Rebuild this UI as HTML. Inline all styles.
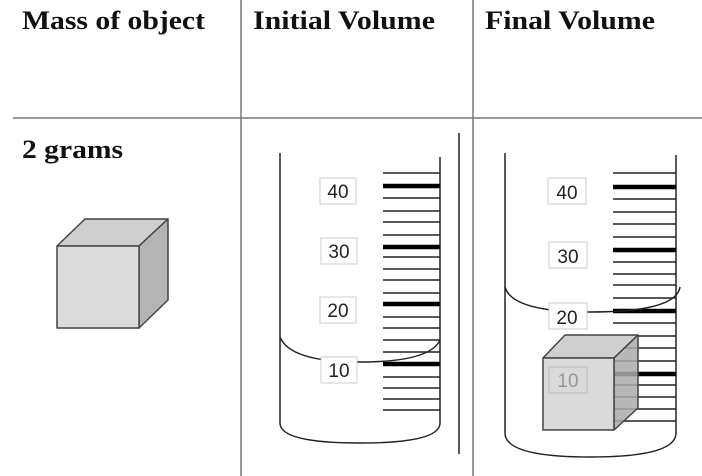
<!DOCTYPE html>
<html><head><style>html,body{margin:0;padding:0;background:#fff}svg{display:block}</style></head><body>
<svg width="702" height="476" viewBox="0 0 702 476" xmlns="http://www.w3.org/2000/svg" font-family="Liberation Serif, serif">
<g stroke="#777" stroke-width="1.5">
<line x1="13" y1="118" x2="702" y2="118"/>
<line x1="241" y1="0" x2="241" y2="476"/>
<line x1="473" y1="0" x2="473" y2="476"/>
</g>
<g font-weight="bold" font-size="26" fill="#111">
<text x="22" y="29" textLength="183" lengthAdjust="spacingAndGlyphs">Mass of object</text>
<text x="253" y="29" textLength="182" lengthAdjust="spacingAndGlyphs">Initial Volume</text>
<text x="485" y="29" textLength="170" lengthAdjust="spacingAndGlyphs">Final Volume</text>
<text x="22" y="158" textLength="101" lengthAdjust="spacingAndGlyphs">2 grams</text>
</g>
<!-- left cube -->
<g stroke="#444" stroke-width="1.5" stroke-linejoin="round">
<polygon points="57,246 85,219 168,219 139,246" fill="#cfcfcf"/>
<polygon points="139,246 168,219 168,300 139,328" fill="#b4b4b4"/>
<rect x="57" y="246" width="82" height="82" fill="#dcdcdc"/>
</g>
<!-- initial cylinder -->
<g stroke="#222" fill="none" stroke-width="1.5">
<line x1="280" y1="153" x2="280" y2="423"/>
<line x1="440" y1="157" x2="440" y2="423"/>
<path d="M280,423 Q280,443 360,443 Q440,443 440,423"/>
<path d="M280,337 Q290,362 360,362 Q430,362 440,340"/>
<line x1="459" y1="133" x2="459" y2="454"/>
<g stroke-width="1.5">
<line x1="383" y1="173" x2="440" y2="173"/><line x1="383" y1="198" x2="440" y2="198"/><line x1="383" y1="211" x2="440" y2="211"/><line x1="383" y1="222" x2="440" y2="222"/><line x1="383" y1="235" x2="440" y2="235"/><line x1="383" y1="257" x2="440" y2="257"/><line x1="383" y1="269" x2="440" y2="269"/><line x1="383" y1="280" x2="440" y2="280"/><line x1="383" y1="293" x2="440" y2="293"/><line x1="383" y1="317" x2="440" y2="317"/><line x1="383" y1="328" x2="440" y2="328"/><line x1="383" y1="340" x2="440" y2="340"/><line x1="383" y1="352" x2="440" y2="352"/><line x1="383" y1="377" x2="440" y2="377"/><line x1="383" y1="388" x2="440" y2="388"/><line x1="383" y1="399" x2="440" y2="399"/><line x1="383" y1="410" x2="440" y2="410"/>
</g>
<g stroke-width="4.5" stroke="#000">
<line x1="383" y1="186" x2="440" y2="186"/><line x1="383" y1="247" x2="440" y2="247"/><line x1="383" y1="304" x2="440" y2="304"/><line x1="383" y1="364" x2="440" y2="364"/>
</g>
</g>
<g font-family="Liberation Sans, sans-serif" font-size="19" fill="#222" text-anchor="middle">
<g stroke="#ccc" fill="#fff"><rect x="320" y="178" width="36" height="26"/><rect x="321" y="238" width="36" height="26"/><rect x="320" y="297" width="36" height="26"/><rect x="321" y="357" width="36" height="26"/></g>
<text x="338" y="198">40</text><text x="339" y="258">30</text><text x="338" y="317">20</text><text x="339" y="377">10</text>
</g>
<!-- final cylinder -->
<g stroke="#222" fill="none" stroke-width="1.5">
<line x1="505" y1="153" x2="505" y2="433"/>
<line x1="676" y1="155" x2="676" y2="433"/>
<path d="M505,433 Q505,457 590,457 Q676,457 676,433"/>
<line x1="613" y1="173" x2="676" y2="173"/><line x1="613" y1="199" x2="676" y2="199"/><line x1="613" y1="212" x2="676" y2="212"/><line x1="613" y1="224" x2="676" y2="224"/><line x1="613" y1="237" x2="676" y2="237"/><line x1="613" y1="262" x2="676" y2="262"/><line x1="613" y1="274" x2="676" y2="274"/><line x1="613" y1="285" x2="676" y2="285"/><line x1="613" y1="298" x2="676" y2="298"/><line x1="613" y1="323" x2="676" y2="323"/><line x1="613" y1="336" x2="676" y2="336"/><line x1="613" y1="348" x2="676" y2="348"/><line x1="613" y1="361" x2="676" y2="361"/><line x1="613" y1="385" x2="676" y2="385"/><line x1="613" y1="397" x2="676" y2="397"/><line x1="613" y1="409" x2="676" y2="409"/><line x1="613" y1="421" x2="676" y2="421"/>
<g stroke-width="4.5" stroke="#000"><line x1="613" y1="187" x2="676" y2="187"/><line x1="613" y1="250" x2="676" y2="250"/><line x1="613" y1="311" x2="676" y2="311"/><line x1="613" y1="374" x2="676" y2="374"/></g>
<path d="M505,287 Q512,312 590,312 Q676,312 680,287"/>
</g>
<g font-family="Liberation Sans, sans-serif" font-size="19" fill="#222" text-anchor="middle">
<g stroke="#ccc" fill="#fff"><rect x="548" y="178" width="38" height="26"/><rect x="549" y="242" width="38" height="26"/><rect x="549" y="303" width="38" height="26"/></g>
<text x="567" y="199">40</text><text x="568" y="263">30</text><text x="567" y="324">20</text>
</g>
<g stroke="#444" stroke-width="1.5" stroke-linejoin="round">
<polygon points="543,358 565,335 638,335 614,358" fill="#cfcfcf"/>
<polygon points="614,358 638,335 638,408 614,430" fill="#aaa" fill-opacity="0.85"/>
<rect x="543" y="358" width="71" height="72" fill="#dadada"/>
</g>
<rect x="549" y="367" width="38" height="26" fill="none" stroke="#bbb"/>
<text x="568" y="387" font-family="Liberation Sans, sans-serif" font-size="19" fill="#999" text-anchor="middle">10</text>
</svg>
</body></html>
